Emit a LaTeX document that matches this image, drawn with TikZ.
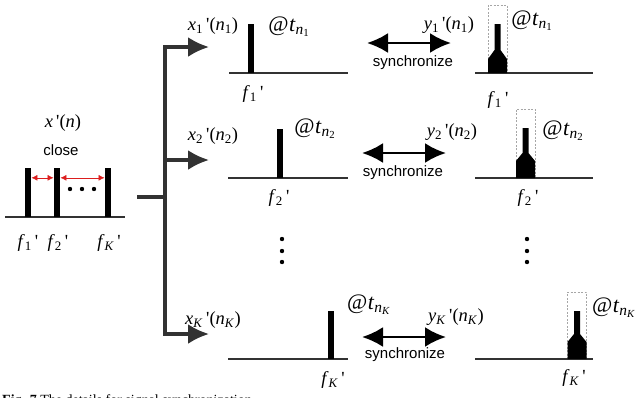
\documentclass[tikz,border=0pt]{standalone}
\usepackage{fontspec}
\setmainfont{Liberation Serif}
\setsansfont{Liberation Sans}
\usepackage{tikz}
\usetikzlibrary{arrows.meta}
\definecolor{darkline}{RGB}{50, 50, 50}
\definecolor{gapred}{RGB}{220, 30, 30}

\newcommand{\signame}[3]{\textit{#1}\textsubscript{#2}\,\textquotesingle(\textit{n}\textsubscript{#3})}
\newcommand{\freqname}[1]{\textit{f}\textsubscript{#1}\,\textquotesingle}
\newcommand{\stampname}[1]{@\kern0.5pt\textit{t}\textsubscript{\textit{n}\textsubscript{#1}}}

\begin{document}
\begin{tikzpicture}[x=1pt, y=-1pt,
    base/.style={line width=1.6pt, darkline},
    trunk/.style={line width=3.2pt, darkline, line join=miter},
    bar/.style={rectangle, fill=black, inner sep=0pt, minimum width=6.5pt, anchor=south},
    sig/.style={font=\fontsize{18.5}{20}\selectfont, inner sep=1pt},
    stamp/.style={font=\fontsize{22}{24}\selectfont, inner sep=1pt},
    word/.style={font=\sffamily\fontsize{15}{17}\selectfont, inner sep=1pt},
    guide/.style={gray!70, line width=0.6pt, dash pattern=on 2pt off 1.5pt}]
    % Page
    \clip (0,0) rectangle (637,397);

    % Input spectrum, close carriers
    \draw[base] (5,217) -- (125,217);
    \node[bar, minimum height=49pt] (c1) at (28,217) {};
    \node[bar, minimum height=49pt] (c2) at (57,217) {};
    \node[bar, minimum height=49pt] (c3) at (108,217) {};
    \draw[gapred, line width=0.6pt, {Latex[length=6pt,width=6pt]}-{Latex[length=6pt,width=6pt]}]
        ([yshift=14.5pt]c1.east) -- ([yshift=14.5pt]c2.west);
    \draw[gapred, line width=0.6pt, {Latex[length=6pt,width=6pt]}-{Latex[length=6pt,width=6pt]}]
        ([yshift=14.5pt]c2.east) -- ([yshift=14.5pt]c3.west);
    \fill (70,189) circle (2.2pt) (82,189) circle (2.2pt) (94,189) circle (2.2pt);
    \node[sig] (xin) at (63,123) {\textit{x}\,\textquotesingle(\textit{n})};
    \node[word] (close) at (61,150) {close};
    \node[sig] (f1in) at (28,243) {\freqname{1}};
    \node[sig] (f2in) at (58,243) {\freqname{2}};
    \node[sig] (fKin) at (109,243) {\freqname{\textit{K}}};

    % Splitting into branches
    \coordinate (in) at (137,197);
    \coordinate (split) at (165,197);
    \coordinate (top) at (165,47);
    \coordinate (bot) at (165,334);
    \coordinate (to1) at (209,47);
    \coordinate (to2) at (209,160);
    \coordinate (toK) at (209,334);
    \draw[trunk] (in) -- (split);
    \draw[trunk, {Latex[length=21pt,width=20pt]}-{Latex[length=21pt,width=20pt]}]
        (to1) -- (top) -- (bot) -- (toK);
    \draw[trunk, -{Latex[length=21pt,width=20pt]}] (split |- to2) -- (to2);

    % Branch 1
    \draw[base] (229,73) -- (348,73);
    \node[bar, minimum height=49pt] (b1) at (251,73) {};
    \node[sig] (x1) at (213,26) {\signame{x}{1}{1}};
    \node[stamp] (t1) at (289,27) {\stampname{1}};
    \node[sig] (f1) at (253,94) {\freqname{1}};

    % Branch 2
    \draw[base] (228,178) -- (348,178);
    \node[bar, minimum height=49pt] (b2) at (280,178) {};
    \node[sig] (x2) at (213,136) {\signame{x}{2}{2}};
    \node[stamp] (t2) at (315,129) {\stampname{2}};
    \node[sig] (f2) at (279,198) {\freqname{2}};

    % Branch K
    \draw[base] (228,359) -- (348,359);
    \node[bar, minimum height=48pt] (bK) at (331,359) {};
    \node[sig] (xK) at (213,320) {\signame{x}{\textit{K}}{\textit{K}}};
    \node[stamp] (tK) at (369,305) {\stampname{\textit{K}}};
    \node[sig] (fK) at (333,380) {\freqname{\textit{K}}};

    % Vertical dots
    \fill (282,239) circle (2.2pt) (282,251) circle (2.2pt) (282,262) circle (2.2pt);
    \fill (527,239) circle (2.2pt) (527,251) circle (2.2pt) (527,262) circle (2.2pt);

    % Synchronize arrows
    \coordinate (s1a) at (367,43);
    \coordinate (s1b) at (451,43);
    \coordinate (s2a) at (362,153);
    \coordinate (s2b) at (446,153);
    \coordinate (sKa) at (362,337);
    \coordinate (sKb) at (446,337);
    \draw[line width=2.6pt, {Latex[length=21pt,width=20pt]}-{Latex[length=21pt,width=20pt]}] (s1a) -- (s1b);
    \draw[line width=2.6pt, {Latex[length=21pt,width=20pt]}-{Latex[length=21pt,width=20pt]}] (s2a) -- (s2b);
    \draw[line width=2.6pt, {Latex[length=21pt,width=20pt]}-{Latex[length=21pt,width=20pt]}] (sKa) -- (sKb);
    \node[word] (w1) at (413,63) {synchronize};
    \node[word] (w2) at (403,173) {synchronize};
    \node[word] (wK) at (405,355) {synchronize};

    % Synchronized spectra
    \draw[guide] (488,73) rectangle (507,5);
    \draw[guide] (516,178) rectangle (535,109);
    \draw[guide] (567.5,359) rectangle (586.5,292);
    \draw[base] (475,73) -- (593,73);
    \draw[base] (475,178) -- (593,178);
    \draw[base] (475,359) -- (593,359);
    \coordinate (p1) at (497.5,73);
    \coordinate (p2) at (525.5,178);
    \coordinate (pK) at (577,359);
    \fill (p1) ++(-9.5,0) -- ++(0,-14) -- ++(6.5,-9) -- ++(0,-26) -- ++(6,0) -- ++(0,26) -- ++(6.5,9) -- ++(0,14) -- cycle;
    \fill (p2) ++(-9.5,0) -- ++(0,-17) -- ++(6.5,-8) -- ++(0,-25) -- ++(6,0) -- ++(0,25) -- ++(6.5,8) -- ++(0,17) -- cycle;
    \fill (pK) ++(-9.5,0) -- ++(0,-17) -- ++(6.5,-8) -- ++(0,-23) -- ++(6,0) -- ++(0,23) -- ++(6.5,8) -- ++(0,17) -- cycle;
    \node[sig] (y1) at (449,25) {\signame{y}{1}{1}};
    \node[sig] (y2) at (452,132) {\signame{y}{2}{2}};
    \node[sig] (yK) at (456,317) {\signame{y}{\textit{K}}{\textit{K}}};
    \node[stamp] (u1) at (532,21) {\stampname{1}};
    \node[stamp] (u2) at (563,131) {\stampname{2}};
    \node[stamp] (uK) at (614,308) {\stampname{\textit{K}}};
    \node[sig] (g1) at (498,100) {\freqname{1}};
    \node[sig] (g2) at (528,198) {\freqname{2}};
    \node[sig] (gK) at (574,378) {\freqname{\textit{K}}};

    % Caption, cut by the page edge
    \node[anchor=base west, font=\fontsize{14}{16}\selectfont, inner sep=0pt] (cap) at (2,404)
        {\textbf{Fig. 7} The details for signal synchronization};
\end{tikzpicture}
\end{document}
